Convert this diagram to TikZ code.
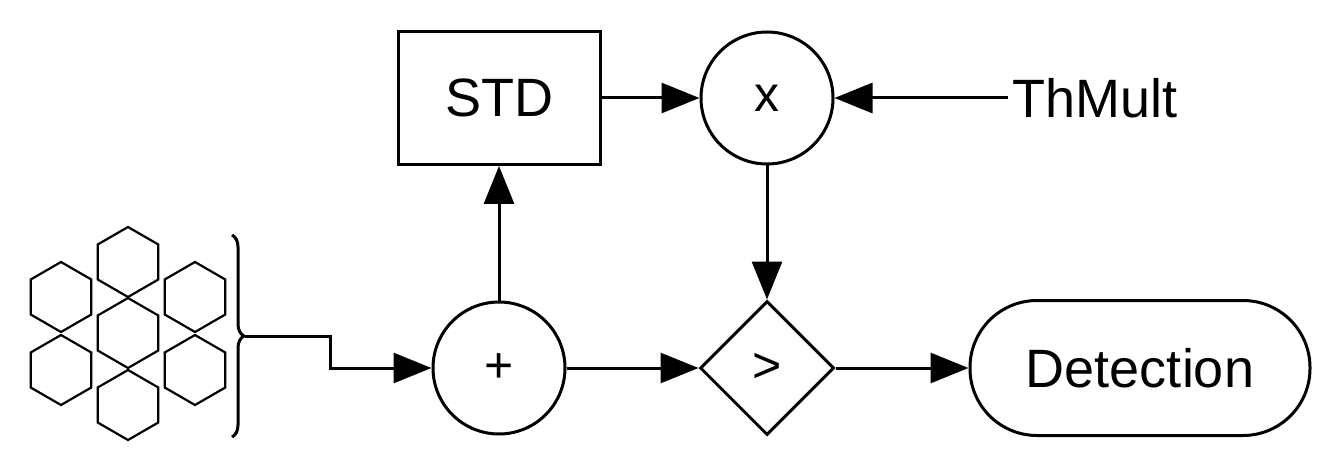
\documentclass[tikz,border=0pt]{standalone}
\usepackage{fontspec}
\setmainfont{Liberation Sans}
\usetikzlibrary{arrows.meta,shapes.geometric,decorations.pathreplacing}
\begin{document}
\begin{tikzpicture}[x=1pt,y=-1pt,line width=3pt,
  arr/.style={-{Triangle[length=38pt,width=30pt]}},
  big/.style={font=\fontsize{54}{60}\selectfont},
  op/.style={circle,draw,minimum size=132pt,inner sep=0pt,font=\fontsize{50}{56}\selectfont},
  hex/.style={regular polygon,regular polygon sides=6,shape border rotate=30,draw,minimum size=70pt,inner sep=0pt,line width=2.2pt}]
\useasboundingbox (0,0) rectangle (1333,457);
\node[draw,minimum width=202pt,minimum height=133pt,big] (std) at (499,98) {STD};
\node[op] (mul) at (767,98) {x};
\node[big,anchor=west] (th) at (1008,98) {ThMult};
\node[op] (sum) at (499,368) {+};
\node[diamond,draw,minimum width=134pt,minimum height=134pt,inner sep=0pt,font=\fontsize{50}{56}\selectfont] (cmp) at (767,368) {>};
\node[draw,rounded corners=67pt,minimum width=340pt,minimum height=135pt,big] (det) at (1140,368) {Detection};
\foreach \n/\x/\y in {a/128/262,b/61/297,c/195/297,d/128/333,e/61/370,f/195/370,g/128/405}
  \node[hex] (\n) at (\x,\y) {};
\draw[decorate,decoration={brace,amplitude=12pt}] (232,235) -- (232,437);
\coordinate (bt) at (245,336);
\draw[arr] (bt) -- (330,336) -- (330,368) -- (sum);
\draw[arr] (sum) -- (std);
\draw[arr] (std) -- (mul);
\draw[arr] (th) -- (mul);
\draw[arr] (mul) -- (cmp);
\draw[arr] (sum) -- (cmp);
\draw[arr] (cmp) -- (det);
\end{tikzpicture}
\end{document}
